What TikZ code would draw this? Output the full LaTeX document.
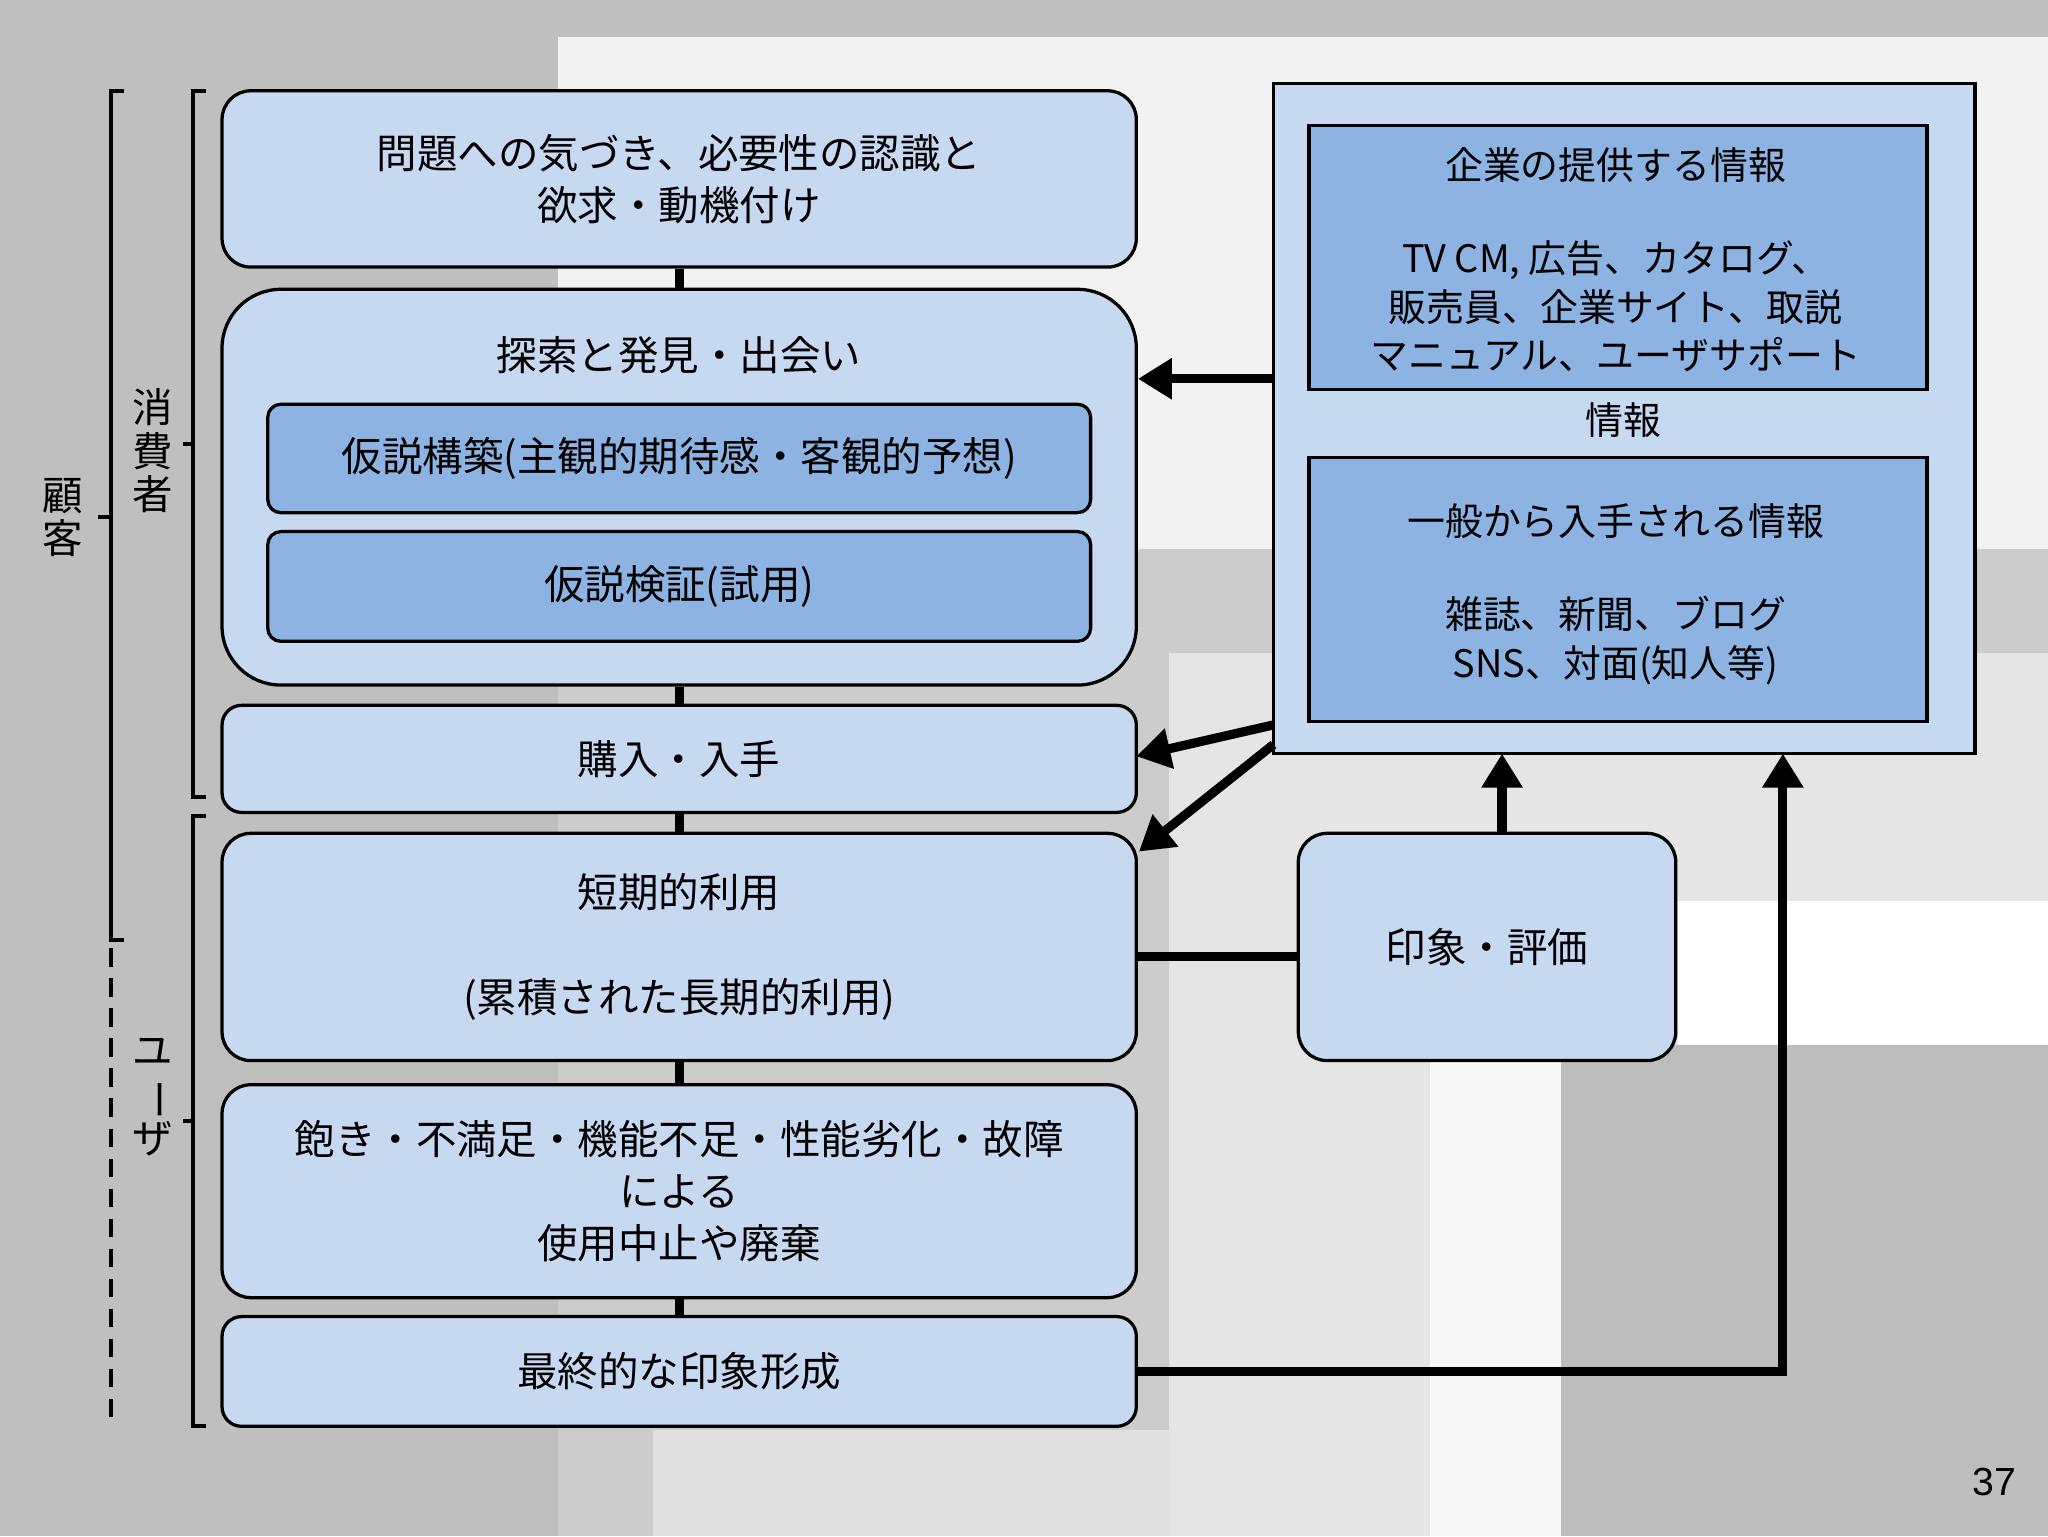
\documentclass[tikz,border=0pt]{standalone}
\usepackage{fontspec}
\setmainfont{Noto Sans CJK JP}
\newfontfamily\latin{Liberation Sans}
\usetikzlibrary{arrows.meta}
\begin{document}
\begin{tikzpicture}[x=1pt,y=-1pt,
  box/.style={draw=black,line width=2.5pt,fill=boxblue,rounded corners=22pt,align=center,font=\fontsize{31}{40}\selectfont,inner sep=0pt},
  inner/.style={draw=black,line width=2.5pt,fill=innerblue,rounded corners=10pt,align=center,font=\fontsize{31}{40}\selectfont},
  sq/.style={draw=black,line width=2.5pt,fill=innerblue,align=center,font=\fontsize{29}{37}\selectfont,anchor=north west,inner sep=0pt},
  link/.style={line width=7pt},
  arr/.style={line width=7pt,-{Triangle[length=26pt,width=30pt]}},
  brk/.style={line width=3pt},
  vlab/.style={align=center,font=\fontsize{31}{33}\selectfont}]
\definecolor{boxblue}{HTML}{C6D9F0}
\definecolor{innerblue}{HTML}{8DB3E2}
\useasboundingbox (0,0) rectangle (1568,1176);
% background
\fill[gray!50!white] (0,0) rectangle (1568,1176);
\fill[black!5] (427,28) rectangle (1568,1176);
\fill[black!20] (427,420) rectangle (1568,1176);
\fill[black!10] (895,500) rectangle (1568,1176);
\fill[white] (1285,690) rectangle (1568,800);
\fill[black!26] (1195,800) rectangle (1568,1176);
\fill[black!3] (1095,800) rectangle (1195,1176);
\fill[black!12] (500,1095) rectangle (895,1176);
% left boxes
\node[box,minimum width=700pt,minimum height=135pt] (a) at (520,137) {問題への気づき、必要性の認識と\\欲求・動機付け};
\node[box,rounded corners=45pt,minimum width=700pt,minimum height=303pt] (b) at (520,373) {};
\node[font=\fontsize{31}{40}\selectfont] (bt) at (520,272) {探索と発見・出会い};
\node[inner,minimum width=630pt,minimum height=83pt,inner sep=0pt] (b1) at (520,351) {仮説構築(主観的期待感・客観的予想)};
\node[inner,minimum width=630pt,minimum height=84pt,inner sep=0pt] (b2) at (520,449) {仮説検証(試用)};
\node[box,rounded corners=15pt,minimum width=700pt,minimum height=82pt] (c) at (520,581) {購入・入手};
\node[box,minimum width=700pt,minimum height=174pt] (d) at (520,725) {短期的利用\\[40pt](累積された長期的利用)};
\node[box,minimum width=700pt,minimum height=163pt] (e) at (520,912) {飽き・不満足・機能不足・性能劣化・故障\\による\\使用中止や廃棄};
\node[box,rounded corners=15pt,minimum width=700pt,minimum height=84pt] (f) at (520,1050) {最終的な印象形成};
\draw[link] (a.south) -- (b.north);
\draw[link] (b.south) -- (c.north);
\draw[link] (c.south) -- (d.north);
\draw[link] (d.south) -- (e.north);
\draw[link] (e.south) -- (f.north);
% right info block
\node[draw=black,line width=2.5pt,fill=boxblue,minimum width=537pt,minimum height=513pt,inner sep=0pt] (info) at (1243.5,320.5) {};
\node[sq,minimum width=473pt,minimum height=202pt] (i1) at (1001,95) {};
\node[align=center,font=\fontsize{29}{37}\selectfont] at (1237,199) {企業の提供する情報\\[34pt]TV CM, 広告、カタログ、\\販売員、企業サイト、取説\\マニュアル、ユーザサポート};
\node[font=\fontsize{29}{37}\selectfont] (il) at (1243,322) {情報};
\node[sq,minimum width=473pt,minimum height=202pt] (i2) at (1001,349) {};
\node[align=center,font=\fontsize{29}{37}\selectfont] at (1237,455) {一般から入手される情報\\[34pt]雑誌、新聞、ブログ\\SNS、対面(知人等)};
\node[box,minimum width=289pt,minimum height=174pt] (g) at (1138.5,725) {印象・評価};
% arrows
\coordinate (s1) at (975,290);
\coordinate (s2) at (975,555);
\coordinate (s3) at (975,570);
\draw[arr] (s1) -- (b.east |- s1);
\draw[arr] (s2) -- (870,579);
\draw[arr] (s3) -- (872,652);
\draw[arr] (g.north -| 1150,0) -- (1150,577);
\draw[link] (d.east |- 0,732) -- (g.west |- 0,732);
\coordinate (k) at (1365,1050);
\draw[arr] (f.east) -- (k) -- (1365,577);
% brackets
\draw[brk] (95,70) -- (85,70) -- (85,720) -- (95,720);
\draw[brk,dash pattern=on 14pt off 9pt] (85,726) -- (85,1092);
\draw[brk] (85,396) -- (75,396);
\node[vlab] (l1) at (48,396) {顧\\客};
\draw[brk] (158,70) -- (148,70) -- (148,610) -- (158,610);
\draw[brk] (148,340) -- (140,340);
\node[vlab] (l2) at (117,345) {消\\費\\者};
\draw[brk] (158,625) -- (148,625) -- (148,1092) -- (158,1092);
\draw[brk] (148,858) -- (140,858);
\node[vlab] (l3) at (117,840) {ユ\\\rotatebox[origin=c]{-90}{ー}\\ザ};
\node[font=\latin\fontsize{30}{34}\selectfont] (pn) at (1527,1135) {37};
\end{tikzpicture}
\end{document}
